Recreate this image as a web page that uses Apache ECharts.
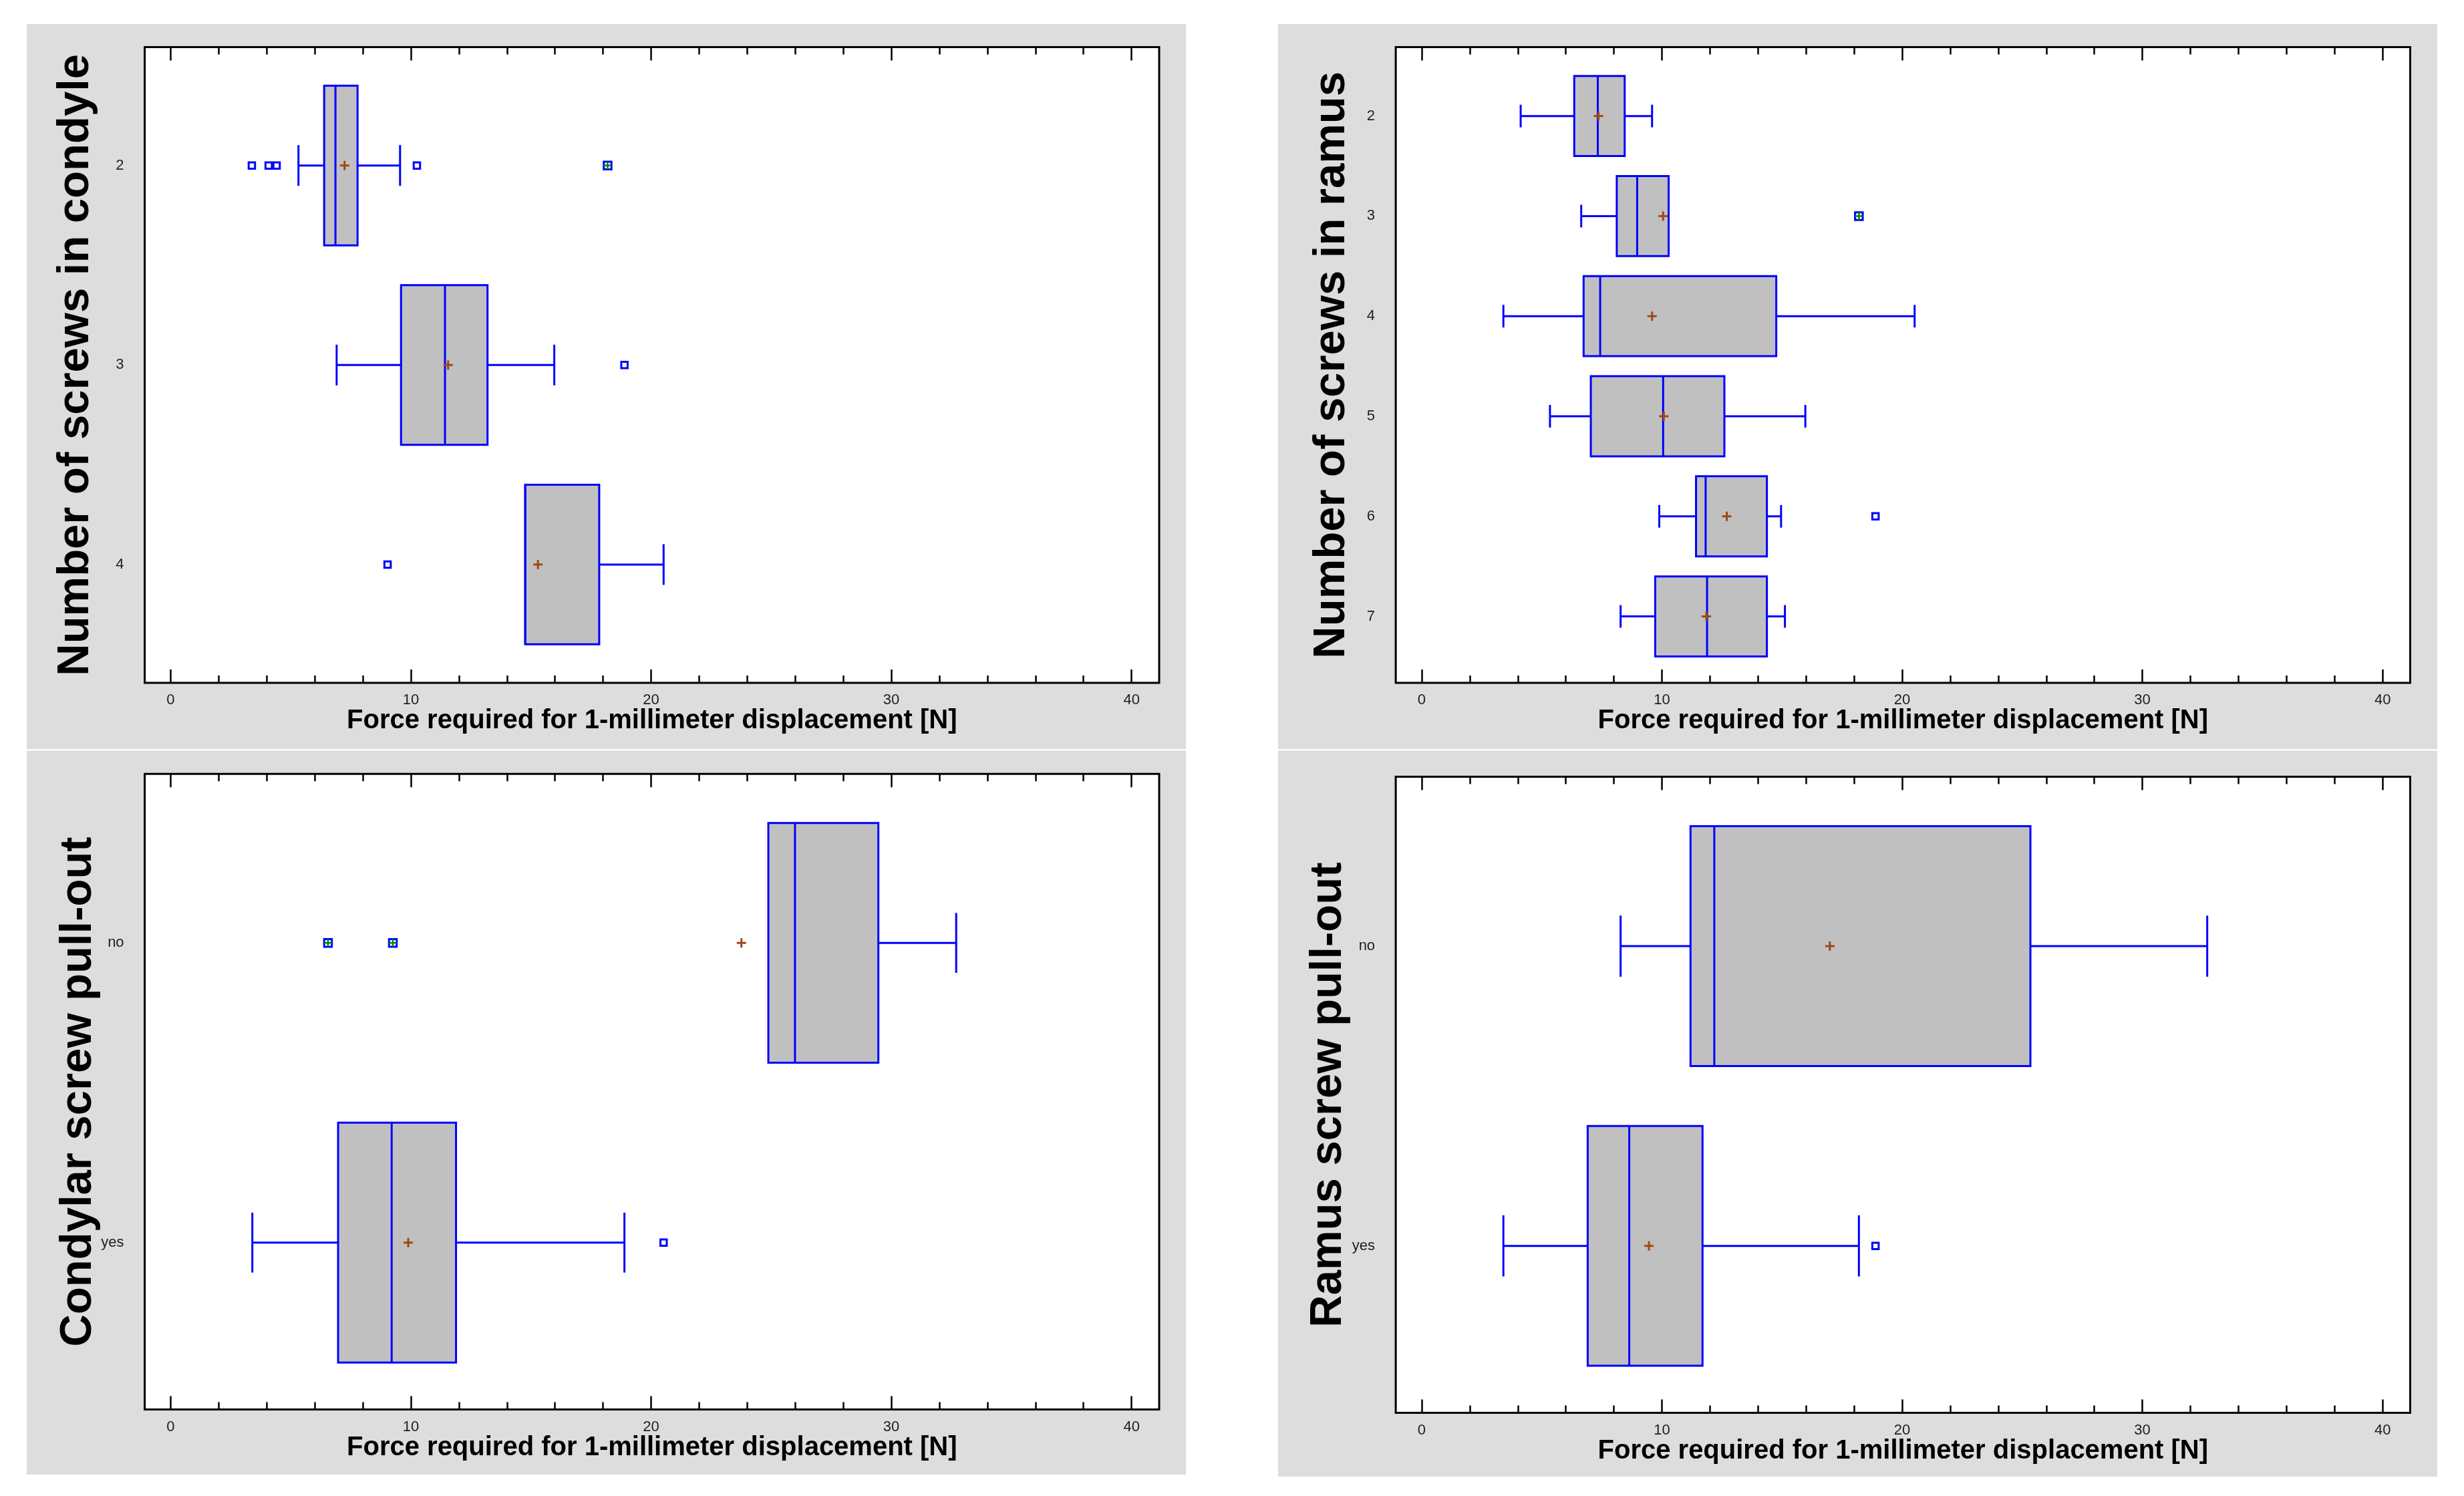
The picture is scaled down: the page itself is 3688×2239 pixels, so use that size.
<!DOCTYPE html>
<html>
<head>
<meta charset="utf-8">
<script src="https://cdn.jsdelivr.net/npm/echarts@6/dist/echarts.min.js"></script>
<style>
html,body{margin:0;padding:0;background:#ffffff;}
#chart{width:3688px;height:2239px;}
</style>
</head>
<body>
<div id="chart"></div>
<script>
// ---------------- data ----------------
const xTicksMajor = [0, 10, 20, 30, 40];
const xTicksMinor = [2, 4, 6, 8, 12, 14, 16, 18, 22, 24, 26, 28, 32, 34, 36, 38];
const xAxisTitle = 'Force required for 1-millimeter displacement [N]';

// boxes: [min whisker, Q1, median, Q3, max whisker]
const condyleTitle = 'Number of screws in condyle';
const condyleCategories = ['2', '3', '4'];
const condyleBoxes = [
  [5.32, 6.39, 6.86, 7.78, 9.55],
  [6.91, 9.59, 11.42, 13.19, 15.97],
  [14.76, 14.76, 14.76, 17.84, 20.52]
];
const condyleMeans = [7.24, 11.55, 15.29];
const condyleOutliers = [['2', 3.38], ['2', 4.08], ['2', 4.41], ['2', 10.25], ['3', 18.89], ['4', 9.03]];
const condyleFarOutliers = [['2', 18.19]];

const ramusTitle = 'Number of screws in ramus';
const ramusCategories = ['2', '3', '4', '5', '6', '7'];
const ramusBoxes = [
  [4.12, 6.35, 7.33, 8.45, 9.59],
  [6.64, 8.12, 8.97, 10.28, 10.28],
  [3.40, 6.74, 7.43, 14.76, 20.52],
  [5.34, 7.04, 10.05, 12.60, 15.97],
  [9.89, 11.42, 11.82, 14.37, 14.96],
  [8.28, 9.72, 11.88, 14.37, 15.12]
];
const ramusMeans = [7.36, 10.05, 9.59, 10.08, 12.70, 11.85];
const ramusOutliers = [['6', 18.89]];
const ramusFarOutliers = [['3', 18.20]];

const condylarPullTitle = 'Condylar screw pull-out';
const condylarPullCategories = ['no', 'yes'];
const condylarPullBoxes = [
  [24.88, 24.88, 25.99, 29.46, 32.70],
  [3.40, 6.97, 9.20, 11.88, 18.89]
];
const condylarPullMeans = [23.76, 9.89];
const condylarPullOutliers = [['yes', 20.52]];
const condylarPullFarOutliers = [['no', 6.55], ['no', 9.25]];

const ramusPullTitle = 'Ramus screw pull-out';
const ramusPullCategories = ['no', 'yes'];
const ramusPullBoxes = [
  [8.28, 11.19, 12.18, 25.34, 32.70],
  [3.40, 6.91, 8.64, 11.69, 18.20]
];
const ramusPullMeans = [16.99, 9.46];
const ramusPullOutliers = [['yes', 18.89]];
const ramusPullFarOutliers = [];

// ---------------- layout / style ----------------
const FONT = '"Liberation Sans", Arial, Helvetica, sans-serif';
const BLUE = '#0000FF';
const BOX_FILL = '#C0C0C0';
const MEAN_COLOR = '#A04814';
const FAR_GREEN = '#008A00';
const PANEL_BG = '#DDDDDD';
const GRID_W = 1518.4, GRID_H = 951.4;
const X_MIN = -1.08, X_MAX = 41.15;
const BOX_HALF = 0.4;

const panels = [
  { title: condyleTitle, cats: condyleCategories, boxes: condyleBoxes, means: condyleMeans,
    outliers: condyleOutliers, far: condyleFarOutliers,
    bg: [40, 36, 1735, 1085], left: 216.6, top: 70.6, h: GRID_H, pad: [0.593, 0.593], cap: 0.102, gap: 102.8 },
  { title: ramusTitle, cats: ramusCategories, boxes: ramusBoxes, means: ramusMeans,
    outliers: ramusOutliers, far: ramusFarOutliers,
    bg: [1913, 36, 1735, 1085], left: 2089.1, top: 70.6, h: GRID_H, pad: [0.688, 0.664], cap: 0.113, gap: 96 },
  { title: condylarPullTitle, cats: condylarPullCategories, boxes: condylarPullBoxes, means: condylarPullMeans,
    outliers: condylarPullOutliers, far: condylarPullFarOutliers,
    bg: [40, 1123.5, 1735, 1083.5], left: 216.6, top: 1158.2, h: GRID_H, pad: [0.564, 0.557], cap: 0.100, gap: 99.5 },
  { title: ramusPullTitle, cats: ramusPullCategories, boxes: ramusPullBoxes, means: ramusPullMeans,
    outliers: ramusPullOutliers, far: ramusPullFarOutliers,
    bg: [1913, 1123.5, 1735, 1086.5], left: 2089.1, top: 1162.6, h: 951.9, pad: [0.565, 0.557], cap: 0.102, gap: 101 }
];

function boxRenderer(capHalf) {
  return function (params, api) {
    const c = api.value(0);
    const mn = api.value(1), q1 = api.value(2), md = api.value(3), q3 = api.value(4), mx = api.value(5), mean = api.value(6);
    const X = v => api.coord([v, c])[0];
    const yc = api.coord([q1, c])[1];
    const y1 = api.coord([q1, c - BOX_HALF])[1];
    const y2 = api.coord([q1, c + BOX_HALF])[1];
    const yt = Math.min(y1, y2), yb = Math.max(y1, y2);
    const ca = api.coord([q1, c - capHalf])[1];
    const cb = api.coord([q1, c + capHalf])[1];
    const lineStyle = { stroke: BLUE, lineWidth: 3 };
    const kids = [];
    kids.push({ type: 'rect', shape: { x: X(q1), y: yt, width: X(q3) - X(q1), height: yb - yt },
      style: { fill: BOX_FILL, stroke: BLUE, lineWidth: 3 } });
    kids.push({ type: 'line', shape: { x1: X(md), y1: yt, x2: X(md), y2: yb }, style: lineStyle });
    if (mn < q1) {
      kids.push({ type: 'line', shape: { x1: X(mn), y1: yc, x2: X(q1), y2: yc }, style: lineStyle });
      kids.push({ type: 'line', shape: { x1: X(mn), y1: ca, x2: X(mn), y2: cb }, style: lineStyle });
    }
    if (mx > q3) {
      kids.push({ type: 'line', shape: { x1: X(q3), y1: yc, x2: X(mx), y2: yc }, style: lineStyle });
      kids.push({ type: 'line', shape: { x1: X(mx), y1: ca, x2: X(mx), y2: cb }, style: lineStyle });
    }
    const xm = X(mean);
    kids.push({ type: 'line', shape: { x1: xm - 7, y1: yc, x2: xm + 7, y2: yc }, style: { stroke: MEAN_COLOR, lineWidth: 3 } });
    kids.push({ type: 'line', shape: { x1: xm, y1: yc - 7, x2: xm, y2: yc + 7 }, style: { stroke: MEAN_COLOR, lineWidth: 3 } });
    return { type: 'group', children: kids };
  };
}

function farRenderer(params, api) {
  const p = api.coord([api.value(1), api.value(0)]);
  const h = 5.75;
  return { type: 'group', children: [
    { type: 'rect', shape: { x: p[0] - h, y: p[1] - h, width: 2 * h, height: 2 * h },
      style: { fill: '#FFFFFF', stroke: BLUE, lineWidth: 3 } },
    { type: 'line', shape: { x1: p[0] - h, y1: p[1], x2: p[0] + h, y2: p[1] }, style: { stroke: FAR_GREEN, lineWidth: 2.5 } },
    { type: 'line', shape: { x1: p[0], y1: p[1] - h, x2: p[0], y2: p[1] + h }, style: { stroke: FAR_GREEN, lineWidth: 2.5 } }
  ]};
}

const grids = [], xAxes = [], yAxes = [], series = [], graphics = [];

panels.forEach((p, i) => {
  graphics.push({ type: 'rect', z: -10, silent: true,
    shape: { x: p.bg[0], y: p.bg[1], width: p.bg[2], height: p.bg[3] },
    style: { fill: PANEL_BG } });

  grids.push({ left: p.left, top: p.top, width: GRID_W, height: p.h, show: true,
    backgroundColor: '#FFFFFF', borderColor: '#000000', borderWidth: 3,
    containLabel: false, outerBoundsMode: 'none' });

  const baseX = { type: 'value', gridIndex: i, min: X_MIN, max: X_MAX,
    axisLine: { show: false, onZero: false }, splitLine: { show: false } };
  // bottom major (labels + title)
  xAxes.push(Object.assign({}, baseX, {
    position: 'bottom',
    axisTick: { show: true, inside: true, length: 20, customValues: xTicksMajor, lineStyle: { color: '#000', width: 2.5 } },
    axisLabel: { show: true, customValues: xTicksMajor, margin: 15, fontSize: 22, color: '#1E1E1E', fontFamily: FONT },
    name: xAxisTitle, nameLocation: 'middle', nameGap: 57, nameMoveOverlap: false,
    nameTextStyle: { fontSize: 40, fontWeight: 'bold', color: '#000', fontFamily: FONT, verticalAlign: 'middle', align: 'center' }
  }));
  // bottom minor
  xAxes.push(Object.assign({}, baseX, {
    position: 'bottom',
    axisTick: { show: true, inside: true, length: 11, customValues: xTicksMinor, lineStyle: { color: '#000', width: 2.5 } },
    axisLabel: { show: false }
  }));
  // top major
  xAxes.push(Object.assign({}, baseX, {
    position: 'top',
    axisTick: { show: true, inside: true, length: 20, customValues: xTicksMajor, lineStyle: { color: '#000', width: 2.5 } },
    axisLabel: { show: false }
  }));
  // top minor
  xAxes.push(Object.assign({}, baseX, {
    position: 'top',
    axisTick: { show: true, inside: true, length: 11, customValues: xTicksMinor, lineStyle: { color: '#000', width: 2.5 } },
    axisLabel: { show: false }
  }));

  const catIdx = p.cats.map((c, k) => k);
  yAxes.push({ type: 'value', gridIndex: i, inverse: true,
    min: -p.pad[0], max: p.cats.length - 1 + p.pad[1],
    axisLine: { show: false, onZero: false }, axisTick: { show: false }, splitLine: { show: false },
    axisLabel: { show: true, customValues: catIdx, margin: 31, fontSize: 22, color: '#1E1E1E', fontFamily: FONT,
      formatter: v => p.cats[Math.round(v)] },
    name: p.title, nameLocation: 'middle', nameRotate: 90, nameGap: p.gap, nameMoveOverlap: false,
    nameTextStyle: { fontSize: 67, fontWeight: 'bold', color: '#000', fontFamily: FONT, verticalAlign: 'middle', align: 'center' }
  });

  series.push({ type: 'custom', coordinateSystem: 'cartesian2d', xAxisIndex: 4 * i, yAxisIndex: i,
    renderItem: boxRenderer(p.cap), encode: { x: [1, 2, 3, 4, 5, 6], y: 0 }, silent: true, clip: false, z: 2,
    data: p.boxes.map((b, k) => [k, b[0], b[1], b[2], b[3], b[4], p.means[k]]) });

  series.push({ type: 'scatter', xAxisIndex: 4 * i, yAxisIndex: i, symbol: 'rect', symbolSize: 9.5, silent: true, z: 3,
    itemStyle: { color: '#FFFFFF', borderColor: BLUE, borderWidth: 3, opacity: 1 },
    data: p.outliers.map(o => [o[1], p.cats.indexOf(o[0])]) });

  series.push({ type: 'custom', coordinateSystem: 'cartesian2d', xAxisIndex: 4 * i, yAxisIndex: i,
    renderItem: farRenderer, encode: { x: 1, y: 0 }, silent: true, clip: false, z: 4,
    data: p.far.map(o => [p.cats.indexOf(o[0]), o[1]]) });
});

const chart = echarts.init(document.getElementById('chart'), null, { renderer: 'canvas' });
chart.setOption({
  animation: false,
  backgroundColor: '#FFFFFF',
  textStyle: { fontFamily: FONT },
  graphic: graphics,
  grid: grids,
  xAxis: xAxes,
  yAxis: yAxes,
  series: series
});
</script>
</body>
</html>
